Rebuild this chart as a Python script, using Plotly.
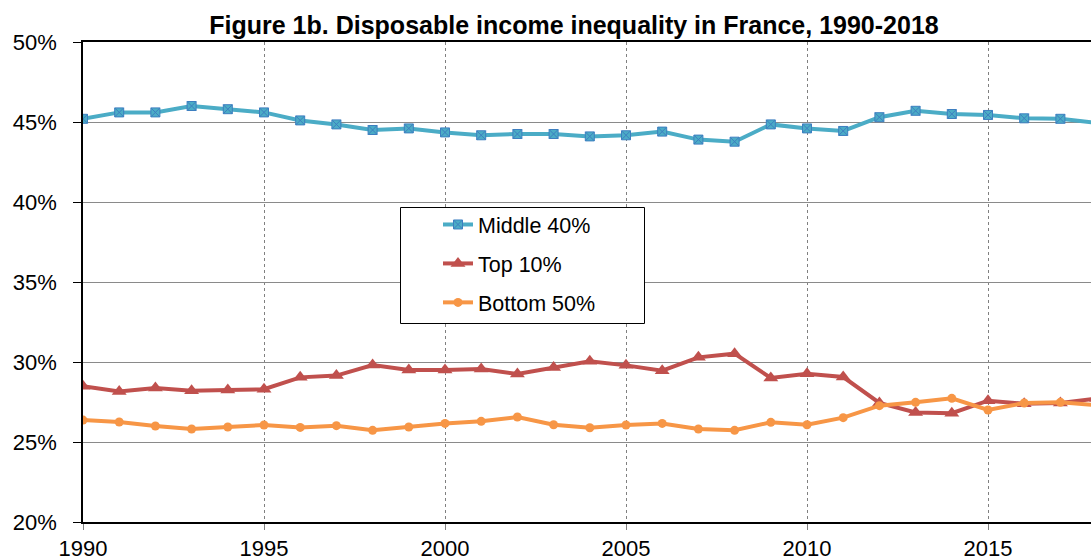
import plotly.graph_objects as go

years = list(range(1990, 2019))
middle40 = [45.2, 45.6, 45.6, 46.0, 45.8, 45.6, 45.1, 44.85, 44.5, 44.6,
            44.35, 44.17, 44.25, 44.25, 44.1, 44.17, 44.4, 43.9, 43.77,
            44.85, 44.6, 44.44, 45.3, 45.7, 45.5, 45.44, 45.23, 45.2, 44.95]
top10 = [28.48, 28.16, 28.37, 28.2, 28.25, 28.3, 29.04, 29.15, 29.81, 29.5,
         29.5, 29.56, 29.25, 29.66, 30.04, 29.79, 29.46, 30.29, 30.52,
         29.0, 29.27, 29.06, 27.44, 26.85, 26.8, 27.58, 27.39, 27.44, 27.72]
bottom50 = [26.37, 26.25, 26.0, 25.81, 25.94, 26.06, 25.91, 26.02, 25.73, 25.94,
            26.16, 26.29, 26.56, 26.08, 25.89, 26.06, 26.16, 25.81, 25.73,
            26.23, 26.08, 26.52, 27.27, 27.48, 27.73, 27.0, 27.44, 27.48, 27.3]

names = ["Middle 40%", "Top 10%", "Bottom 50%"]
y_ticks = [20, 25, 30, 35, 40, 45, 50]
y_ticklabels = ["20%", "25%", "30%", "35%", "40%", "45%", "50%"]
x_ticks = [1990, 1995, 2000, 2005, 2010, 2015]

FONT = "Liberation Sans, Arial, sans-serif"
W, H = 1091, 557
L, T = 83, 42
B = H - 522
PW = W - L
PH = H - T - B


def px(x):
    return (x - L) / PW


def py(y):
    return (H - B - y) / PH


fig = go.Figure()
fig.add_trace(go.Scatter(
    x=years, y=middle40, name=names[0], mode="lines+markers", legendgroup="a",
    line=dict(color="#4BACC6", width=4),
    marker=dict(symbol="square-x", size=9, color="#4BACC6",
                line=dict(color="#3D7FC0", width=1))))
fig.add_trace(go.Scatter(
    x=years, y=top10, name=names[1], mode="lines+markers", legendgroup="b",
    line=dict(color="#C0504D", width=4),
    marker=dict(symbol="triangle-up", size=13, color="#C0504D")))
fig.add_trace(go.Scatter(
    x=years, y=bottom50, name=names[2], mode="lines+markers", legendgroup="c",
    line=dict(color="#F79646", width=4),
    marker=dict(symbol="circle", size=9, color="#F79646")))

fig.update_layout(
    width=W, height=H,
    margin=dict(l=L, r=0, t=T, b=B, autoexpand=False),
    paper_bgcolor="white", plot_bgcolor="white",
    font=dict(family=FONT, color="black"),
    title=dict(text="<b>Figure 1b. Disposable income inequality in France, 1990-2018</b>",
               x=574/W, xref="container", xanchor="center",
               y=1 - 25/H, yref="container", yanchor="middle",
               font=dict(size=25, family=FONT, color="black")),
    showlegend=True,
    legend=dict(x=px(438), y=py(204), xanchor="left", yanchor="top",
                bgcolor="rgba(0,0,0,0)", borderwidth=0,
                font=dict(size=21.5, family=FONT, color="black"),
                tracegroupgap=8, itemwidth=30),
    shapes=[dict(type="rect", xref="paper", yref="paper",
                 x0=px(400.5), x1=px(644.5), y0=py(323.5), y1=py(207.5),
                 line=dict(color="black", width=1), fillcolor="white",
                 layer="above")],
)
fig.update_xaxes(
    range=[1990, 1990 + PW/36.2], tickvals=x_ticks, automargin=False,
    showgrid=True, gridcolor="#808080", gridwidth=1, griddash="dot",
    showline=True, linecolor="black", linewidth=1.5, mirror=True,
    ticks="outside", ticklen=6, tickcolor="#808080", tickwidth=1,
    tickfont=dict(size=22, family=FONT, color="black"),
    zeroline=False)
fig.update_yaxes(
    range=[20, 50], tickvals=y_ticks, ticktext=y_ticklabels, automargin=False,
    showgrid=True, gridcolor="#8a8a8a", gridwidth=1,
    showline=True, linecolor="black", linewidth=1.5,
    ticks="outside", ticklen=8, tickcolor="black",
    ticklabelstandoff=12,
    tickfont=dict(size=22, family=FONT, color="black"),
    zeroline=False)

fig.write_html(
    "out.html",
    config={"displayModeBar": False},
    post_script="document.body.style.margin='0px';document.body.style.overflow='hidden';")
